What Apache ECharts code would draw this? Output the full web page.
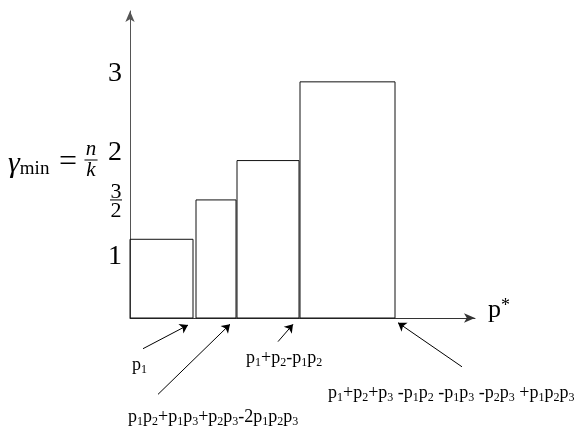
<!DOCTYPE html>
<html>
<head>
<meta charset="utf-8">
<script src="https://cdn.jsdelivr.net/npm/echarts@6/dist/echarts.min.js"></script>
<style>
  html, body { margin: 0; padding: 0; background: #fff; }
  #main { width: 584px; height: 430px; }
</style>
</head>
<body>
<div id="main"></div>
<script>
// bars along p* : left edge, right edge, height (gamma_min = n/k)
const barLeft = [0.0, 6.6, 10.7, 17.0];
const barRight = [6.3, 10.6, 16.9, 26.5];
const barHeight = [1, 1.5, 2, 3];

// y tick values and what is written there
const yTicks = [1, 1.5, 2, 3];
const yTickLabels = ['1', '3/2', '2', '3'];

// annotation arrows (data coords, below the axis)
const arrowTail = [[1.3, -0.39], [2.8, -0.97], [14.8, -0.30], [33.2, -0.62]];
const arrowTip = [[5.8, -0.09], [10.0, -0.08], [16.3, -0.08], [26.8, -0.06]];

// notes under the axis
const noteTexts = ['p1', 'p1+p2-p1p2', 'p1p2+p1p3+p2p3-2p1p2p3', 'p1+p2+p3 -p1p2 -p1p3 -p2p3 +p1p2p3'];

const FONT = '"Liberation Serif", "DejaVu Serif", serif';

// p followed by a digit -> digit as subscript
function subText(s) {
  let out = '', buf = '';
  for (let i = 0; i < s.length; i++) {
    const ch = s[i];
    if (/\d/.test(ch) && s[i - 1] === 'p') {
      if (buf) { out += '{t|' + buf + '}'; buf = ''; }
      out += '{s|' + ch + '}';
    } else {
      buf += ch;
    }
  }
  if (buf) out += '{t|' + buf + '}';
  return out;
}

const noteRich = {
  t: { fontSize: 18, lineHeight: 21, fontFamily: FONT, color: '#000' },
  s: { fontSize: 12, lineHeight: 13, verticalAlign: 'bottom', fontFamily: FONT, color: '#000' }
};

const notePos = [[132, 365], [246, 358], [128, 417], [328, 393]];

const chart = echarts.init(document.getElementById('main'));

const option = {
  backgroundColor: '#fff',
  animation: false,
  grid: { left: 130, right: 109, top: 11, bottom: 112 },
  xAxis: {
    type: 'value',
    min: 0,
    max: 34.5,
    name: '{p|p}{st|*}',
    nameLocation: 'end',
    nameGap: 13,
    nameTextStyle: {
      padding: [0, 0, 16, 0],
      rich: {
        p: { fontSize: 26, fontFamily: FONT, color: '#000' },
        st: { fontSize: 18, fontFamily: FONT, color: '#000', verticalAlign: 'top', lineHeight: 18 }
      }
    },
    axisLine: {
      show: true,
      symbol: ['none', 'arrow'],
      symbolSize: [7, 11],
      lineStyle: { color: '#333', width: 1 }
    },
    axisTick: { show: false },
    axisLabel: { show: false },
    splitLine: { show: false }
  },
  yAxis: {
    type: 'value',
    min: 0,
    max: 3.9,
    axisLine: {
      show: true,
      symbol: ['none', 'arrow'],
      symbolSize: [7, 11],
      lineStyle: { color: '#555', width: 1 }
    },
    axisTick: { show: false },
    splitLine: { show: false },
    axisLabel: {
      customValues: yTicks,
      margin: 8,
      formatter: function (v) {
        const lab = yTickLabels[yTicks.indexOf(v)];
        if (lab.indexOf('/') > 0) {
          const parts = lab.split('/');
          return '{f0|' + parts[0] + '}\n{hr|}\n{f|' + parts[1] + '}';
        }
        if (v === 1) return '{dn|' + lab + '}';
        return '{up|' + lab + '}';
      },
      rich: {
        up: { fontSize: 28, fontFamily: FONT, color: '#000', padding: [0, 0, 16, 0] },
        dn: { fontSize: 28, fontFamily: FONT, color: '#000', padding: [34, 0, 0, 0] },
        f0: { fontSize: 22, fontFamily: FONT, color: '#000', lineHeight: 21, align: 'center', padding: [8, 0, 0, 0] },
        f: { fontSize: 22, fontFamily: FONT, color: '#000', lineHeight: 21, align: 'center' },
        hr: { borderColor: '#000', borderWidth: 0.6, width: 12, height: 0, lineHeight: 2, align: 'center' }
      }
    }
  },
  graphic: [
    {
      type: 'text',
      x: 8,
      y: 164,
      style: {
        text: '{g|γ}{m|min}',
        verticalAlign: 'middle',
        rich: {
          g: { fontSize: 30, fontStyle: 'italic', fontFamily: FONT, color: '#000', lineHeight: 30 },
          m: { fontSize: 19, fontFamily: FONT, color: '#000', lineHeight: 19, verticalAlign: 'bottom' }
        }
      }
    },
    {
      type: 'text',
      x: 68,
      y: 163,
      style: {
        text: '=',
        align: 'center',
        verticalAlign: 'middle',
        font: '32px ' + FONT,
        fill: '#000'
      }
    },
    {
      type: 'text',
      x: 91,
      y: 160,
      style: {
        text: '{f|n}\n{hr|}\n{f|k}',
        align: 'center',
        verticalAlign: 'middle',
        rich: {
          f: { fontSize: 21, fontStyle: 'italic', fontFamily: FONT, color: '#000', lineHeight: 19, align: 'center' },
          hr: { borderColor: '#000', borderWidth: 0.6, width: 13, height: 0, lineHeight: 2, align: 'center' }
        }
      }
    }
  ].concat(noteTexts.map(function (t, i) {
    return {
      type: 'text',
      x: notePos[i][0],
      y: notePos[i][1],
      style: { text: subText(t), verticalAlign: 'middle', rich: noteRich }
    };
  })),
  series: [
    {
      type: 'custom',
      coordinateSystem: 'cartesian2d',
      clip: false,
      encode: { x: [0, 1], y: 2 },
      data: barLeft.map(function (l, i) { return [l, barRight[i], barHeight[i]]; }),
      renderItem: function (params, api) {
        const topLeft = api.coord([api.value(0), api.value(2)]);
        const botRight = api.coord([api.value(1), 0]);
        return {
          type: 'rect',
          shape: {
            x: topLeft[0],
            y: topLeft[1],
            width: botRight[0] - topLeft[0],
            height: botRight[1] - topLeft[1]
          },
          style: { fill: 'none', stroke: '#111', lineWidth: 1 }
        };
      }
    },
    {
      type: 'lines',
      coordinateSystem: 'cartesian2d',
      clip: false,
      silent: true,
      symbol: ['none', 'arrow'],
      symbolSize: 8,
      lineStyle: { color: '#000', width: 1, opacity: 1 },
      data: arrowTail.map(function (t, i) { return { coords: [t, arrowTip[i]] }; })
    }
  ]
};

chart.setOption(option);
</script>
</body>
</html>
